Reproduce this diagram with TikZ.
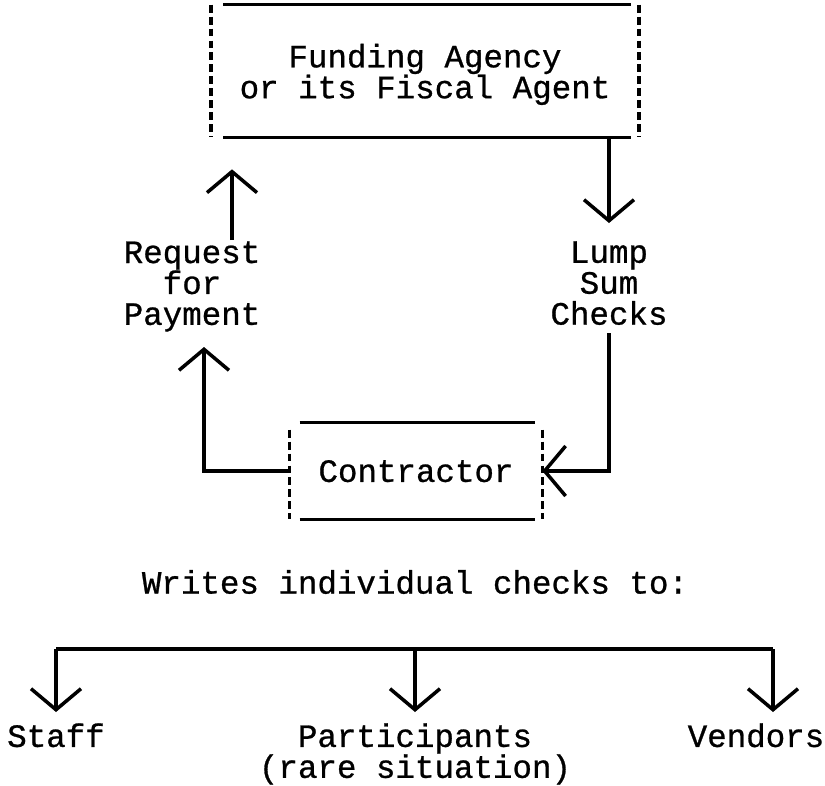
\documentclass[tikz,border=0pt]{standalone}
\usepackage{fontspec}
\setmonofont{Liberation Mono}[FakeBold=0.8]
\usetikzlibrary{arrows.meta}
\tikzset{
  txt/.style={font=\ttfamily\fontsize{18.5}{17.6}\selectfont, align=center, inner sep=0pt},
  arr/.style={line width=2pt, -{Straight Barb[length=0.42cm,width=1cm,line width=2pt]}},
  edge/.style={line width=2pt},
  side/.style={line width=2pt, dash pattern=on 4.5pt off 2.3pt}
}
\begin{document}
\begin{tikzpicture}[x=0.02cm,y=-0.02cm]
\useasboundingbox (0,0) rectangle (825,785);
% boxes
\node[txt,text depth=0pt,minimum width=8.54cm,minimum height=2.64cm] (agency) at (425,71) {Funding Agency\\or its Fiscal Agent};
\draw[edge] ([xshift=0.24cm]agency.north west) -- ([xshift=-0.16cm]agency.north east);
\draw[edge] ([xshift=0.24cm]agency.south west) -- ([xshift=-0.16cm]agency.south east);
\draw[side] (agency.north west) -- (agency.south west);
\draw[side] (agency.north east) -- (agency.south east);
\node[txt,text depth=0pt,minimum width=5.04cm,minimum height=1.92cm] (contr) at (416,471) {Contractor};
\draw[edge] ([xshift=0.2cm]contr.north west) -- ([xshift=-0.14cm]contr.north east);
\draw[edge] ([xshift=0.2cm]contr.south west) -- ([xshift=-0.14cm]contr.south east);
\draw[side] ([yshift=-0.14cm]contr.north west) -- (contr.south west);
\draw[side] ([yshift=-0.14cm]contr.north east) -- (contr.south east);
% labels
\node[txt,anchor=north] (req) at (192,241) {Request\\for\\Payment};
\node[txt,anchor=north] (lump) at (609,241) {Lump\\Sum\\Checks};
\node[txt] (writes) at (415,582) {Writes individual checks to:};
\node[txt,anchor=north] (staff) at (56,723) {Staff};
\node[txt,anchor=north] (part) at (415,723) {Participants\\(rare situation)};
\node[txt,anchor=north] (vend) at (756,723) {Vendors};
% flow
\coordinate (reqout) at (232,240);
\coordinate (reqin) at (204,347);
\draw[arr,shorten >=0.64cm] (reqout) -- (reqout |- agency.south);
\draw[arr,shorten >=0.36cm] (lump.north |- agency.south) -- (lump.north);
\draw[arr,shorten <=0.16cm] (lump.south) |- (contr.east);
\draw[arr] (contr.west) -| (reqin);
% checks
\coordinate (bl) at (56,649);
\coordinate (br) at (773,649);
\draw[edge] (bl) -- (br);
\draw[arr,shorten >=0.22cm] (bl) -- (bl |- staff.north);
\draw[arr,shorten >=0.22cm] (part.north |- bl) -- (part.north);
\draw[arr,shorten >=0.22cm] (br) -- (br |- vend.north);
\end{tikzpicture}
\end{document}
